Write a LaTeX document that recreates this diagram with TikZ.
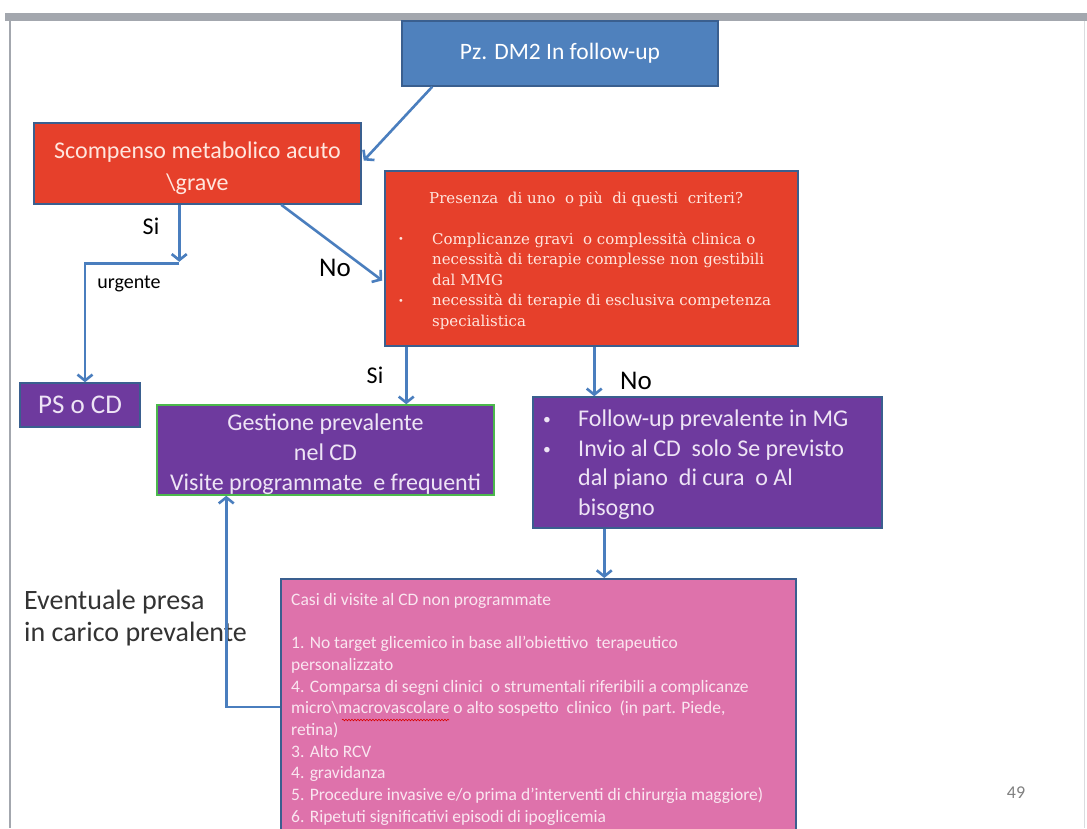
\documentclass[tikz,border=0pt]{standalone}
\usepackage{fontspec}
\setmainfont{Carlito}
\newfontfamily\critfont{DejaVu Serif}
\usetikzlibrary{arrows.meta,calc,decorations.pathmorphing}

\definecolor{pageframe}{HTML}{A3A7AE}
\definecolor{boxblue}{HTML}{4F81BD}
\definecolor{edgeblue}{HTML}{3A5F8F}
\definecolor{boxred}{HTML}{E6402B}
\definecolor{boxpurple}{HTML}{6E3A9E}
\definecolor{boxpink}{HTML}{DE72AB}
\definecolor{flowblue}{HTML}{4A7EBE}
\definecolor{redtext}{HTML}{FFE6DE}
\definecolor{purpletext}{HTML}{EEE4F5}
\definecolor{pinktext}{HTML}{FAE6F0}
\definecolor{notegray}{HTML}{333333}

% small list bullet
\newcommand{\smallbullet}{\raisebox{0.08em}{\scalebox{0.65}{•}}}

\tikzset{
  box/.style={rectangle, inner sep=0pt, line width=1.5pt, align=center},
  bluebox/.style={box, fill=boxblue, draw=edgeblue, text=white},
  redbox/.style={box, fill=boxred, draw=edgeblue, text=redtext},
  purplebox/.style={box, fill=boxpurple, draw=edgeblue, text=purpletext},
  pinkbox/.style={box, fill=boxpink, draw=edgeblue},
  flow/.style={draw=flowblue, line width=2.6pt,
    -{Straight Barb[length=6pt,width=15pt,line width=2.6pt]}},
  lbl/.style={inner sep=0pt, text=black},
}

\begin{document}
\begin{tikzpicture}[x=1pt,y=-1pt]
  \clip (0,0) rectangle (1087,828);
  \fill[white] (0,0) rectangle (1087,828);
  % slide frame
  \fill[pageframe] (5,13) rectangle (1087,21);
  \draw[pageframe, line width=2pt] (10,21) -- (10,828);
  \draw[pageframe!40, line width=1pt] (1084,21) -- (1084,828);

  % boxes
  \node[bluebox, minimum width=316pt, minimum height=65pt,
        font=\fontsize{23.5}{28}\selectfont] (top) at (560,53.5) {Pz. DM2 In follow-up};

  \node[redbox, minimum width=327pt, minimum height=81pt] (scomp) at (197.5,163.5) {};
  \node[inner sep=0pt, align=center, text=redtext,
        font=\fontsize{24}{32}\selectfont] (scomptxt) at (197.5,168)
        {Scompenso metabolico acuto\\\textbackslash grave};

  \node[redbox, minimum width=413pt, minimum height=175pt] (crit) at (591.5,258.5) {};
  \node[anchor=north west, inner sep=0pt, align=left, text=redtext,
        font=\critfont\fontsize{15}{20.5}\selectfont] (crittxt) at (398,191)
        {\hspace*{31pt}Presenza\ \ di uno \ o più\ \ di questi\ \ criteri?\\[20.5pt]
         \makebox[34pt][l]{\smallbullet}Complicanze gravi\ \ o complessità clinica o\\
         \hspace*{34pt}necessità di terapie complesse non gestibili\\
         \hspace*{34pt}dal MMG\\
         \makebox[34pt][l]{\smallbullet}necessità di terapie di esclusiva competenza\\
         \hspace*{34pt}specialistica};

  \node[purplebox, minimum width=120pt, minimum height=44pt,
        font=\fontsize{27}{30}\selectfont] (ps) at (80,405) {PS o CD};

  \node[purplebox, draw=green!60!black!70!white, minimum width=337pt, minimum height=90pt]
        (gest) at (325.5,450) {};
  \node[inner sep=0pt, align=center, text=purpletext,
        font=\fontsize{24}{30}\selectfont] (gesttxt) at (325.5,454)
        {Gestione prevalente\\nel CD\\Visite programmate\ \ e frequenti};

  \node[purplebox, minimum width=349pt, minimum height=131pt] (fu) at (707.5,462.5) {};
  \node[anchor=north west, inner sep=0pt, align=left, text=purpletext,
        font=\fontsize{24}{29.5}\selectfont] (futxt) at (543,410)
        {\makebox[35pt][l]{\smallbullet}Follow-up prevalente in MG\\
         \makebox[35pt][l]{\smallbullet}Invio al CD\ \ solo Se previsto\\
         \hspace*{35pt}dal piano\ \ di cura\ \ o Al\\
         \hspace*{35pt}bisogno};

  \node[pinkbox, anchor=north west, minimum width=515pt, minimum height=270pt] (casi) at (280,578) {};
  \node[anchor=north west, inner sep=0pt, align=left, text=pinktext,
        font=\fontsize{17.5}{21.7}\selectfont] (casitxt) at (291,593)
        {Casi di visite al CD non programmate\\[21.7pt]
         1. No target glicemico in base all’obiettivo\ \ terapeutico\\
         personalizzato\\
         4. Comparsa di segni clinici\ \ o strumentali riferibili a complicanze\\
         micro\textbackslash macrovascolare o alto sospetto\ \ clinico\ \ (in part. Piede,\\
         retina)\\
         3. Alto RCV\\
         4. gravidanza\\
         5. Procedure invasive e/o prima d’interventi di chirurgia maggiore)\\
         6. Ripetuti significativi episodi di ipoglicemia};
  % spelling mark under the compound word
  \draw[red!85!black, line width=0.6pt,
        decorate, decoration={snake, amplitude=0.8pt, segment length=3pt}]
        (342,720) -- (449,720);

  % free-standing texts
  \node[lbl, font=\fontsize{24}{28}\selectfont] (si1) at (151,226) {Si};
  \node[lbl, font=\fontsize{20}{24}\selectfont] (urg) at (129,284) {urgente};
  \node[lbl, font=\fontsize{27}{30}\selectfont] (no1) at (335,268) {No};
  \node[lbl, font=\fontsize{24}{28}\selectfont] (si2) at (375,375) {Si};
  \node[lbl, font=\fontsize{27}{30}\selectfont] (no2) at (636,381) {No};
  \node[anchor=north west, inner sep=0pt, align=left, text=notegray,
        font=\fontsize{28}{32}\selectfont] (presa) at (24,590)
        {Eventuale presa\\in carico prevalente};
  \node[inner sep=0pt, text=gray, font=\fontsize{18}{20}\selectfont] (pg) at (1016,793) {49};

  % connectors
  \draw[flow] ($(top.south west)+(31,0)$) -- ($(scomp.east)+(2,-3)$);

  \coordinate (siA) at ($(scomp.south west)+(146,0)$);
  \coordinate (siB) at ($(scomp.south west)+(146,57)$);
  \draw[flow] (siA) -- (siB);
  \coordinate (psin) at ($(ps.north)+(5,0)$);
  \draw[flow] ($(siB)+(0,2)$) -| (psin);

  \draw[flow] ($(scomp.south west)+(248,0)$) -- ($(crit.west)+(-2,22)$);

  \coordinate (c1) at ($(crit.south west)+(22,0)$);
  \draw[flow] (c1) -- (c1 |- gest.north);

  \coordinate (c2) at ($(fu.north west)+(62,0)$);
  \draw[flow] (c2 |- crit.south) -- (c2);

  \coordinate (c3) at ($(fu.south west)+(72,0)$);
  \draw[flow] (c3) -- (c3 |- casi.north);

  \coordinate (c4) at ($(casi.north west)+(0,129)$);
  \coordinate (c5) at ($(gest.south west)+(70,0)$);
  \draw[flow] (c4) -| (c5);
\end{tikzpicture}
\end{document}
